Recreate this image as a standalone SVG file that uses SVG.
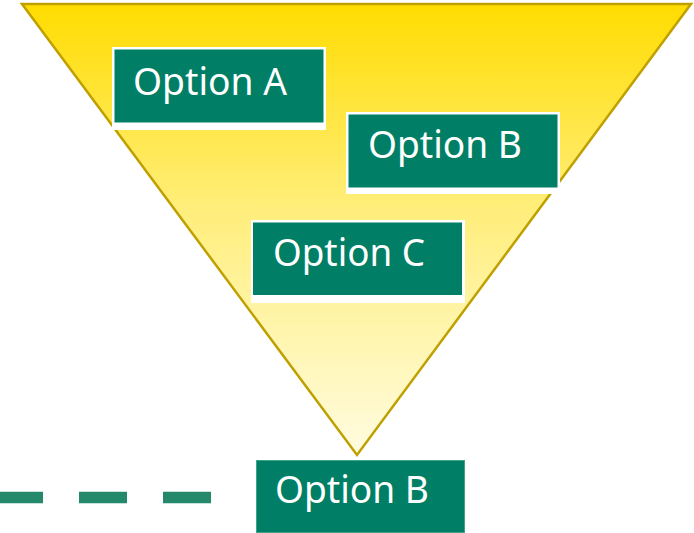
<svg xmlns="http://www.w3.org/2000/svg" width="694" height="533" viewBox="0 0 694 533">
<defs>
<linearGradient id="g" x1="0" y1="4" x2="0" y2="455" gradientUnits="userSpaceOnUse">
<stop offset="0" stop-color="#FFDC00"/>
<stop offset="0.45" stop-color="#FFEE7A"/>
<stop offset="1" stop-color="#FFFCE0"/>
</linearGradient>
<style>
.bg{fill:#FFFFFF}
.box{fill:#007F66}
.t{font-family:"Noto Sans","Open Sans",sans-serif;font-size:38px;fill:#FFFFFF}
</style>
</defs>
<g id="funnel">
<polygon points="22,4 691,4 357,455" fill="url(#g)" stroke="#BFA000" stroke-width="2.5" stroke-linejoin="miter"/>
</g>
<g id="connectors">
<line x1="0" y1="497.5" x2="211" y2="497.5" stroke="#23896A" stroke-width="11.5" stroke-dasharray="43,36,48,36,48,0"/>
</g>
<g id="optionA">
<rect class="bg" x="112" y="47" width="214" height="83"/>
<rect class="box" x="114.5" y="49.5" width="209" height="73"/>
<text class="t" x="133" y="95" textLength="154" lengthAdjust="spacingAndGlyphs">Option A</text>
</g>
<g id="optionB">
<rect class="bg" x="346" y="112" width="214" height="82"/>
<rect class="box" x="348.5" y="114.5" width="209" height="73"/>
<text class="t" x="368" y="158" textLength="154" lengthAdjust="spacingAndGlyphs">Option B</text>
</g>
<g id="optionC">
<rect class="bg" x="251" y="220" width="214" height="83"/>
<rect class="box" x="253" y="222.5" width="209" height="72.5"/>
<text class="t" x="273" y="266" textLength="152" lengthAdjust="spacingAndGlyphs">Option C</text>
</g>
<g id="result">
<rect class="box" x="256.5" y="460.5" width="208" height="72" stroke="#3FA388" stroke-width="1"/>
<text class="t" x="275" y="503" textLength="154" lengthAdjust="spacingAndGlyphs">Option B</text>
</g>
</svg>
